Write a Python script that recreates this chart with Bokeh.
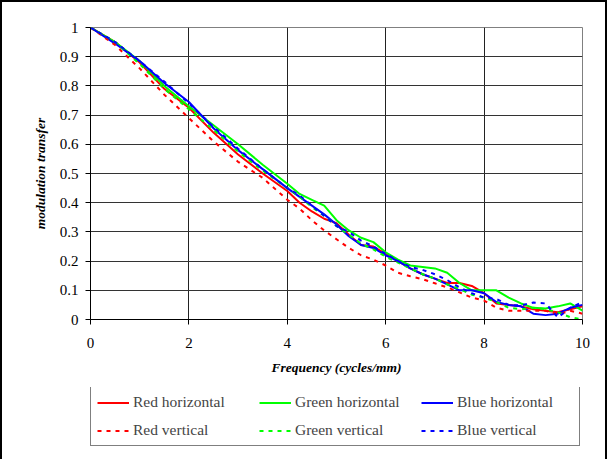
from bokeh.plotting import figure
from bokeh.models import Legend, LegendItem, FixedTicker
from bokeh.layouts import column
from bokeh.embed import file_html
from bokeh.resources import INLINE

freq = [0, 0.5, 1, 1.5, 2, 2.5, 3, 3.5, 4, 4.25, 4.5, 4.75, 5, 5.25, 5.5, 5.75, 6,
        6.25, 6.5, 6.75, 7, 7.25, 7.5, 7.75, 8, 8.25, 8.5, 8.75, 9, 9.25, 9.5, 9.75, 10]

red_h = [1.0, 0.95, 0.88, 0.79, 0.725, 0.64, 0.565, 0.50, 0.44, 0.40, 0.37, 0.345, 0.33,
         0.29, 0.255, 0.25, 0.225, 0.20, 0.175, 0.155, 0.14, 0.125, 0.125, 0.115, 0.09,
         0.055, 0.05, 0.045, 0.035, 0.03, 0.025, 0.035, 0.045]
green_h = [1.0, 0.95, 0.885, 0.80, 0.73, 0.665, 0.60, 0.53, 0.465, 0.43, 0.41, 0.39, 0.34,
           0.305, 0.28, 0.265, 0.23, 0.205, 0.185, 0.18, 0.175, 0.16, 0.125, 0.10, 0.10,
           0.10, 0.075, 0.055, 0.04, 0.038, 0.045, 0.055, 0.03]
blue_h = [1.0, 0.945, 0.885, 0.81, 0.745, 0.655, 0.58, 0.515, 0.45, 0.42, 0.39, 0.36, 0.325,
          0.285, 0.255, 0.245, 0.22, 0.20, 0.175, 0.155, 0.14, 0.12, 0.10, 0.10, 0.09,
          0.06, 0.05, 0.045, 0.02, 0.015, 0.02, 0.04, 0.05]
red_v = [1.0, 0.94, 0.86, 0.77, 0.69, 0.61, 0.54, 0.485, 0.41, 0.38, 0.34, 0.305, 0.275,
         0.245, 0.22, 0.205, 0.185, 0.16, 0.148, 0.138, 0.124, 0.11, 0.093, 0.075, 0.065,
         0.04, 0.03, 0.03, 0.03, 0.03, 0.017, 0.03, 0.02]
green_v = [1.0, 0.95, 0.875, 0.79, 0.72, 0.65, 0.575, 0.51, 0.45, 0.42, 0.385, 0.355, 0.32,
           0.29, 0.26, 0.24, 0.215, 0.195, 0.175, 0.155, 0.14, 0.12, 0.105, 0.085, 0.075,
           0.06, 0.04, 0.035, 0.04, 0.035, 0.025, 0.008, 0.0]
blue_v = [1.0, 0.95, 0.885, 0.815, 0.74, 0.66, 0.585, 0.515, 0.45, 0.425, 0.39, 0.355, 0.32,
          0.30, 0.27, 0.25, 0.225, 0.20, 0.18, 0.17, 0.155, 0.135, 0.11, 0.09, 0.075,
          0.07, 0.05, 0.048, 0.058, 0.055, 0.007, 0.04, 0.06]

series_names = ["Red horizontal", "Green horizontal", "Blue horizontal",
                "Red vertical", "Green vertical", "Blue vertical"]
series_values = [red_h, green_h, blue_h, red_v, green_v, blue_v]
series_colors = ["#FF0000", "#00FF00", "#0000FF", "#FF0000", "#00FF00", "#0000FF"]
series_dash = ["solid", "solid", "solid", "4 5", "4 5", "4 5"]

x_ticks = [0, 2, 4, 6, 8, 10]
y_ticks = [0.0, 0.1, 0.2, 0.3, 0.4, 0.5, 0.6, 0.7, 0.8, 0.9, 1.0]

FONT = "Liberation Serif"

p = figure(width=603, height=385, frame_width=492, frame_height=292,
           output_backend="svg", toolbar_location=None,
           x_range=(0, 10), y_range=(0, 1),
           min_border_left=88, min_border_right=23, min_border_top=25, min_border_bottom=68)
p.background_fill_color = "white"
p.border_fill_color = "white"
p.outline_line_color = "#808080"
p.outline_line_width = 1

p.xaxis.ticker = FixedTicker(ticks=x_ticks)
p.yaxis.ticker = FixedTicker(ticks=y_ticks)
p.yaxis.major_label_overrides = {t: f"{t:g}" for t in y_ticks}
for ax in (p.xaxis, p.yaxis):
    ax.axis_line_color = "black"
    ax.axis_line_width = 1
    ax.major_tick_line_color = "black"
    ax.major_tick_out = 5
    ax.major_tick_in = 0
    ax.minor_tick_line_color = None
    ax.major_label_text_font = FONT
    ax.major_label_text_font_size = "15px"
    ax.major_label_text_color = "black"
    ax.axis_label_text_font = FONT
    ax.axis_label_text_font_size = "13.5px"
    ax.axis_label_text_font_style = "bold italic"
    ax.axis_label_text_color = "black"
p.xaxis.axis_label = "Frequency (cycles/mm)"
p.yaxis.axis_label = "modulation transfer"
p.xaxis.major_label_standoff = 13
p.yaxis.major_label_standoff = 7
p.xaxis.axis_label_standoff = 9
p.yaxis.axis_label_standoff = 9

p.xgrid.ticker = FixedTicker(ticks=x_ticks)
p.ygrid.ticker = FixedTicker(ticks=y_ticks)
p.xgrid.grid_line_color = "#222222"
p.ygrid.grid_line_color = "#333333"

for vals, col, dash in zip(series_values, series_colors, series_dash):
    p.line(freq, vals, line_color=col, line_width=2, line_dash=dash)

# Legend strip: a second canvas whose view range excludes the data, so only
# the boxed legend is visible (the legend keys use the same series styles).
p2 = figure(width=603, height=72, output_backend="svg", toolbar_location=None,
            x_range=(0, 10), y_range=(5, 6),
            min_border_left=88, min_border_right=23, min_border_top=0, min_border_bottom=0)
p2.axis.visible = False
p2.grid.visible = False
p2.outline_line_color = None
p2.background_fill_color = "white"
p2.border_fill_color = "white"

items = []
for name, vals, col, dash in zip(series_names, series_values, series_colors, series_dash):
    r = p2.line(freq, vals, line_color=col, line_width=2, line_dash=dash)
    items.append(LegendItem(label=name, renderers=[r]))

legend = Legend(items=items, orientation="horizontal", nrows=2,
                label_text_font=FONT, label_text_font_size="15.5px",
                glyph_width=32, glyph_height=15, label_height=15, label_width=116,
                label_standoff=4, spacing=10, padding=6, margin=0,
                location=(0, 13),
                border_line_color="black", border_line_width=1,
                background_fill_color="white")
p2.add_layout(legend, "center")

layout = column(p, p2, spacing=0)
layout.styles = {"border-left": "2px solid black", "border-top": "2px solid black",
                 "border-right": "2px solid black"}

open("out.html", "w").write(file_html(layout, INLINE))
